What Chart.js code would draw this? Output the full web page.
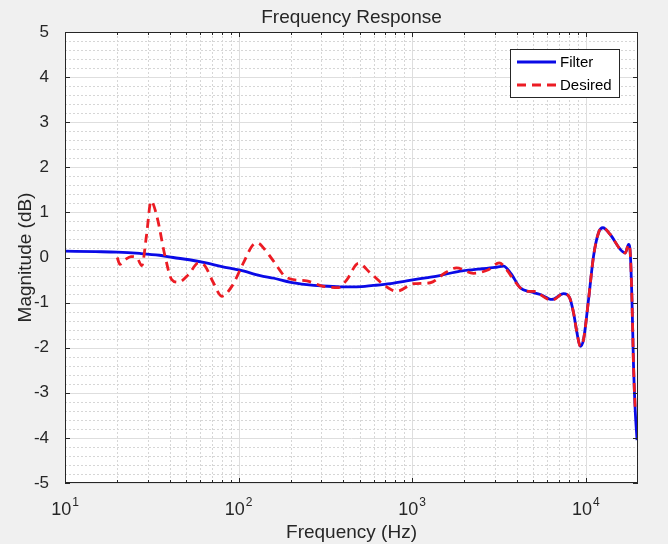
<!DOCTYPE html>
<html>
<head>
<meta charset="utf-8">
<title>Frequency Response</title>
<script src="https://cdn.jsdelivr.net/npm/chart.js@4.4.1/dist/chart.umd.min.js"></script>
<style>
  html, body { margin: 0; padding: 0; background: #f0f0f0; }
  #wrap { width: 668px; height: 544px; }
</style>
</head>
<body>
<div id="wrap"><canvas id="chart" width="668" height="544"></canvas></div>

<script>
// ===============================
// Data
// ===============================
const filterFreq = [10, 15, 20, 27, 35, 42, 52, 65, 80, 102, 133, 160, 200, 247, 300, 384, 480, 597, 750, 930,
  1200, 1440, 1890, 2400, 3000, 3360, 3700, 4190, 4800, 5470, 6380, 7450, 8070, 8510, 8900, 9300, 9710,
  10380, 11090, 11850, 12560, 13840, 15810, 16900, 17660, 18050, 18460, 18850, 19280, 19750];
const filterMag = [0.14, 0.13, 0.12, 0.09, 0.05, 0.0, -0.05, -0.12, -0.2, -0.28, -0.4, -0.46, -0.55, -0.6, -0.63, -0.65, -0.65, -0.62, -0.58, -0.52,
  -0.45, -0.4, -0.3, -0.26, -0.22, -0.19, -0.35, -0.67, -0.76, -0.82, -0.93, -0.8, -0.89, -1.23, -1.67, -1.97, -1.82,
  -0.93, 0.03, 0.55, 0.66, 0.51, 0.18, 0.1, 0.29, 0.1, -0.93, -2.41, -3.4, -4.05];

const desiredFreq = [20, 20.7, 22.2, 24, 25.9, 27.7, 29.5, 31.3, 33.8, 37.7, 41.2, 45, 51.4, 58.7, 64.1, 71.6, 80, 91.4,
  106.6, 121.7, 129, 140, 159, 190, 247, 308, 376, 421, 490, 573, 684, 816, 1019, 1271, 1550, 1800, 2250, 2750,
  3170, 3360, 3700, 4190, 4600, 5200, 5470, 6380, 7450, 8070, 8510, 8900, 9300, 9710, 10380, 11090, 11850, 12560,
  13840, 15810, 16900, 17660, 18050, 18460, 18850, 19280];
const desiredMag = [0.0, -0.15, -0.05, 0.02, 0.0, -0.18, 0.5, 1.25, 0.92, 0.03, -0.49, -0.55, -0.38, -0.12, -0.19, -0.56, -0.86, -0.64,
  -0.12, 0.29, 0.32, 0.2, -0.08, -0.45, -0.52, -0.64, -0.67, -0.49, -0.13, -0.34, -0.6, -0.75, -0.58, -0.56, -0.34, -0.23, -0.35, -0.27,
  -0.12, -0.18, -0.4, -0.67, -0.75, -0.75, -0.82, -0.95, -0.8, -0.89, -1.23, -1.67, -1.97, -1.82, -0.93, 0.03, 0.55, 0.66,
  0.51, 0.18, 0.1, 0.29, 0.1, -0.93, -2.41, -3.37];

const xDecades = [10, 100, 1000, 10000];
const xMin = 10, xMax = 20000;
const yMin = -5, yMax = 5;

const axisColor = '#262626';
const font = '"Liberation Sans", Arial, Helvetica, sans-serif';

// ===============================
// MATLAB-ish frame: background, grid, box, ticks, labels, legend
// ===============================
const matlabFrame = {
  id: 'matlabFrame',
  beforeDraw(chart) {
    const { ctx, chartArea: a } = chart;
    ctx.save();
    ctx.fillStyle = '#f0f0f0';
    ctx.fillRect(0, 0, chart.width, chart.height);
    ctx.fillStyle = '#ffffff';
    ctx.fillRect(a.left, a.top, a.right - a.left, a.bottom - a.top);
    ctx.restore();
  },
  beforeDatasetsDraw(chart) {
    const { ctx, chartArea: a, scales } = chart;
    const xs = scales.x, ys = scales.y;
    ctx.save();
    ctx.lineWidth = 1;

    // minor grid (dotted)
    ctx.setLineDash([2, 2]);
    ctx.strokeStyle = '#d6d6d6';
    ctx.beginPath();
    xDecades.forEach(d => {
      for (let k = 2; k <= 9; k++) {
        const v = d * k;
        if (v >= xMax) continue;
        const px = Math.round(xs.getPixelForValue(v)) + 0.5;
        ctx.moveTo(px, a.top); ctx.lineTo(px, a.bottom);
      }
    });
    for (let i = 0; i <= 50; i++) {
      if (i % 5 === 0) continue;
      const py = Math.round(ys.getPixelForValue(yMin + i * 0.2)) + 0.5;
      ctx.moveTo(a.left, py); ctx.lineTo(a.right, py);
    }
    ctx.stroke();

    // major grid (solid)
    ctx.setLineDash([]);
    ctx.strokeStyle = '#dedede';
    ctx.beginPath();
    xDecades.forEach(d => {
      const px = Math.round(xs.getPixelForValue(d)) + 0.5;
      ctx.moveTo(px, a.top); ctx.lineTo(px, a.bottom);
    });
    for (let v = yMin; v <= yMax; v++) {
      const py = Math.round(ys.getPixelForValue(v)) + 0.5;
      ctx.moveTo(a.left, py); ctx.lineTo(a.right, py);
    }
    ctx.stroke();
    ctx.restore();
  },
  afterDatasetsDraw(chart) {
    const { ctx, chartArea: a, scales } = chart;
    const xs = scales.x, ys = scales.y;
    ctx.save();

    // box
    ctx.strokeStyle = axisColor;
    ctx.lineWidth = 1;
    ctx.strokeRect(Math.round(a.left) + 0.5, Math.round(a.top) + 0.5,
      Math.round(a.right - a.left) - 1, Math.round(a.bottom - a.top) - 1);

    // tick marks, inside, on all four sides
    ctx.beginPath();
    for (let v = yMin; v <= yMax; v++) {
      const py = Math.round(ys.getPixelForValue(v)) + 0.5;
      ctx.moveTo(a.left, py); ctx.lineTo(a.left + 5, py);
      ctx.moveTo(a.right, py); ctx.lineTo(a.right - 5, py);
    }
    xDecades.forEach(d => {
      let px = Math.round(xs.getPixelForValue(d)) + 0.5;
      ctx.moveTo(px, a.bottom); ctx.lineTo(px, a.bottom - 5);
      ctx.moveTo(px, a.top); ctx.lineTo(px, a.top + 5);
      for (let k = 2; k <= 9; k++) {
        if (d * k >= xMax) continue;
        px = Math.round(xs.getPixelForValue(d * k)) + 0.5;
        ctx.moveTo(px, a.bottom); ctx.lineTo(px, a.bottom - 3);
        ctx.moveTo(px, a.top); ctx.lineTo(px, a.top + 3);
      }
    });
    ctx.stroke();

    // x tick labels 10^n
    ctx.fillStyle = axisColor;
    ctx.textBaseline = 'alphabetic';
    xDecades.forEach((d, i) => {
      const px = xs.getPixelForValue(d);
      ctx.font = '18px ' + font;
      const wBase = ctx.measureText('10').width;
      const exp = String(i + 1);
      ctx.font = '12px ' + font;
      const wExp = ctx.measureText(exp).width;
      const x0 = px - (wBase + wExp + 1) / 2;
      ctx.font = '18px ' + font;
      ctx.textAlign = 'left';
      ctx.fillText('10', x0, a.bottom + 32);
      ctx.font = '12px ' + font;
      ctx.fillText(exp, x0 + wBase + 1, a.bottom + 23);
    });

    // title and axis labels
    ctx.textAlign = 'center';
    ctx.font = '19px ' + font;
    ctx.fillText('Frequency Response', (a.left + a.right) / 2, 23);
    ctx.fillText('Frequency (Hz)', (a.left + a.right) / 2, 538);
    ctx.save();
    ctx.translate(31, (a.top + a.bottom) / 2);
    ctx.rotate(-Math.PI / 2);
    ctx.fillText('Magnitude (dB)', 0, 0);
    ctx.restore();

    // legend
    const lx = 510.5, ly = 49.5, lw = 109, lh = 48;
    ctx.fillStyle = '#ffffff';
    ctx.fillRect(lx, ly, lw, lh);
    ctx.strokeStyle = axisColor;
    ctx.lineWidth = 1;
    ctx.strokeRect(lx, ly, lw, lh);
    chart.data.datasets.slice().reverse().forEach((ds, i) => {
      const yy = 62 + i * 23;
      ctx.strokeStyle = ds.borderColor;
      ctx.lineWidth = ds.borderWidth;
      ctx.setLineDash(ds.borderDash || []);
      ctx.beginPath();
      ctx.moveTo(517, yy); ctx.lineTo(556, yy);
      ctx.stroke();
      ctx.setLineDash([]);
      ctx.fillStyle = '#000000';
      ctx.font = '15px ' + font;
      ctx.textAlign = 'left';
      ctx.textBaseline = 'middle';
      ctx.fillText(ds.label, 560, yy + 1);
    });
    ctx.restore();
  }
};

// ===============================
// Chart
// ===============================
const toPoints = (xs, ys) => xs.map((f, i) => ({ x: f, y: ys[i] }));

new Chart(document.getElementById('chart'), {
  type: 'line',
  data: {
    datasets: [
      {
        label: 'Desired',
        data: toPoints(desiredFreq, desiredMag),
        borderColor: '#ec1c24',
        borderWidth: 2.8,
        borderDash: [9, 6],
        pointRadius: 0,
        cubicInterpolationMode: 'monotone',
        fill: false,
        order: 0
      },
      {
        label: 'Filter',
        data: toPoints(filterFreq, filterMag),
        borderColor: '#0a0ae6',
        borderWidth: 2.8,
        pointRadius: 0,
        cubicInterpolationMode: 'monotone',
        fill: false,
        order: 1
      }
    ]
  },
  options: {
    responsive: false,
    animation: false,
    devicePixelRatio: 1,
    layout: { padding: { top: 32, right: 30, left: 0, bottom: 0 } },
    plugins: {
      legend: { display: false },
      title: { display: false },
      tooltip: { enabled: false }
    },
    scales: {
      x: {
        type: 'logarithmic',
        min: xMin,
        max: xMax,
        grid: { display: false },
        border: { display: false },
        ticks: { display: false },
        afterFit: s => { s.height = 61; }
      },
      y: {
        type: 'linear',
        min: yMin,
        max: yMax,
        grid: { display: false },
        border: { display: false },
        ticks: {
          stepSize: 1,
          padding: 8,
          color: axisColor,
          font: { family: font, size: 17 }
        },
        afterFit: s => { s.width = 65; }
      }
    }
  },
  plugins: [matlabFrame]
});
</script>
</body>
</html>
